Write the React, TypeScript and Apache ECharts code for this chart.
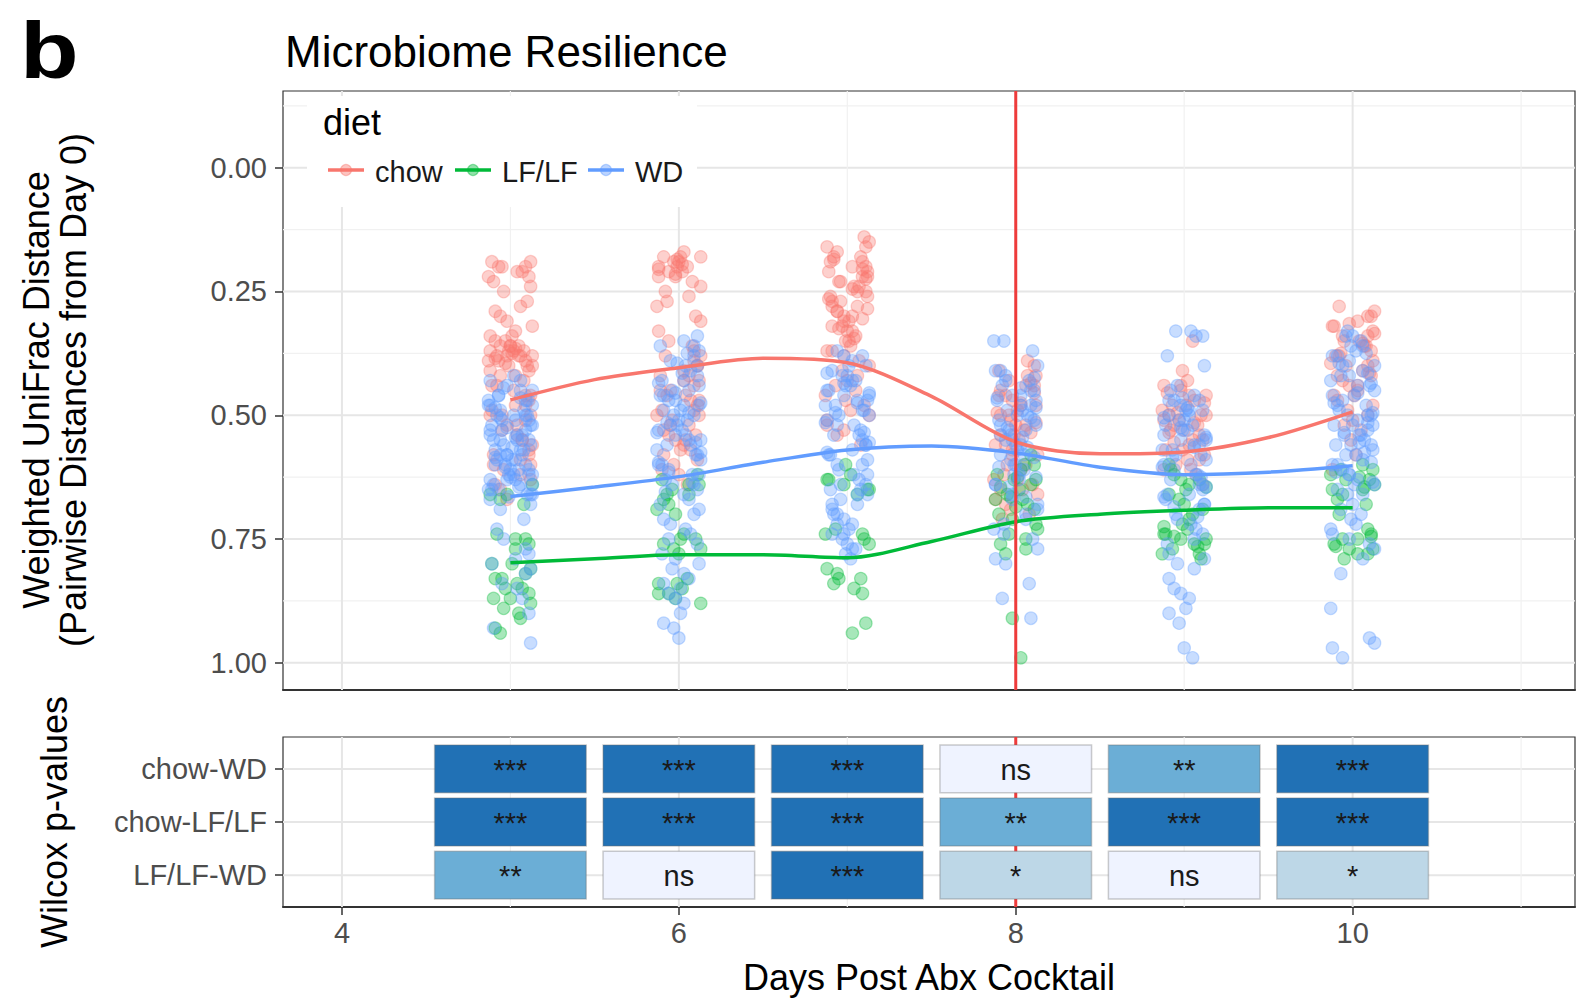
import React, { useEffect, useRef } from 'react';
import * as echarts from 'echarts';

const FONT = '"Liberation Sans", Arial, Helvetica, sans-serif';

// ---------- data ----------
const days = [5, 6, 7, 8, 9, 10];
const diets = ['chow', 'LF/LF', 'WD'];
const dietColors = ['#F8766D', '#00BA38', '#619CFF'];
const pointColors = ['rgba(248,118,109,0.43)', 'rgba(0,186,56,0.43)', 'rgba(97,156,255,0.43)'];

// Weighted UniFrac distances per day (5..10)
const chowPoints = [
  [0.19, 0.19, 0.2, 0.2, 0.21, 0.21, 0.22, 0.23, 0.24, 0.25, 0.28, 0.29, 0.3, 0.31, 0.33, 0.34, 0.35, 0.35, 0.36, 0.36, 0.37, 0.37, 0.37, 0.38, 0.38, 0.38, 0.39, 0.39, 0.4, 0.4, 0.41, 0.42, 0.43, 0.44, 0.46, 0.47, 0.48, 0.49, 0.5, 0.51, 0.53, 0.54, 0.55, 0.57, 0.58, 0.6, 0.61, 0.62, 0.64, 0.65, 0.67, 0.365, 0.375, 0.385, 0.395, 0.36, 0.38, 0.4, 0.45, 0.5, 0.52, 0.56, 0.59, 0.2, 0.22, 0.27, 0.32, 0.34, 0.36, 0.37, 0.38, 0.39, 0.41, 0.42, 0.44, 0.46, 0.48, 0.5, 0.52, 0.55, 0.58, 0.6, 0.63],
  [0.17, 0.18, 0.18, 0.19, 0.19, 0.2, 0.2, 0.21, 0.22, 0.22, 0.24, 0.26, 0.27, 0.28, 0.3, 0.31, 0.33, 0.35, 0.36, 0.38, 0.39, 0.4, 0.41, 0.42, 0.43, 0.44, 0.45, 0.46, 0.47, 0.48, 0.49, 0.5, 0.51, 0.52, 0.53, 0.54, 0.55, 0.56, 0.57, 0.58, 0.6, 0.62, 0.64, 0.185, 0.195, 0.205, 0.215, 0.38, 0.42, 0.46, 0.5, 0.54, 0.18, 0.2, 0.21, 0.23, 0.25, 0.37, 0.4, 0.43, 0.45, 0.47, 0.49, 0.52, 0.55, 0.57, 0.59, 0.61],
  [0.14, 0.15, 0.16, 0.17, 0.18, 0.18, 0.19, 0.2, 0.2, 0.21, 0.22, 0.22, 0.23, 0.24, 0.24, 0.25, 0.26, 0.26, 0.27, 0.28, 0.28, 0.29, 0.3, 0.3, 0.31, 0.32, 0.32, 0.33, 0.34, 0.35, 0.36, 0.37, 0.38, 0.4, 0.42, 0.44, 0.46, 0.48, 0.5, 0.52, 0.54, 0.56, 0.185, 0.205, 0.225, 0.245, 0.265, 0.285, 0.305, 0.325, 0.345, 0.39, 0.16, 0.19, 0.21, 0.23, 0.25, 0.27, 0.29, 0.31, 0.33, 0.35, 0.37, 0.41, 0.43, 0.45, 0.47, 0.49, 0.51, 0.53],
  [0.39, 0.4, 0.41, 0.42, 0.43, 0.44, 0.45, 0.46, 0.47, 0.48, 0.49, 0.5, 0.51, 0.52, 0.53, 0.54, 0.55, 0.56, 0.57, 0.58, 0.6, 0.62, 0.63, 0.64, 0.66, 0.67, 0.68, 0.7, 0.71, 0.435, 0.455, 0.475, 0.495, 0.515, 0.535, 0.6, 0.65, 0.42, 0.44, 0.46, 0.48, 0.5, 0.52, 0.54, 0.56, 0.58, 0.61, 0.63, 0.65, 0.69],
  [0.35, 0.41, 0.43, 0.44, 0.45, 0.46, 0.47, 0.48, 0.49, 0.5, 0.5, 0.51, 0.52, 0.52, 0.53, 0.54, 0.55, 0.56, 0.57, 0.58, 0.59, 0.6, 0.61, 0.62, 0.64, 0.455, 0.475, 0.495, 0.515, 0.535, 0.555, 0.44, 0.46, 0.48, 0.5, 0.51, 0.53, 0.55, 0.57, 0.59, 0.61],
  [0.28, 0.3, 0.3, 0.31, 0.32, 0.33, 0.34, 0.35, 0.35, 0.36, 0.37, 0.38, 0.39, 0.4, 0.41, 0.42, 0.43, 0.44, 0.45, 0.46, 0.47, 0.49, 0.51, 0.53, 0.55, 0.58, 0.61, 0.315, 0.335, 0.355, 0.375, 0.395, 0.415, 0.29, 0.32, 0.34, 0.36, 0.38, 0.4, 0.42, 0.44, 0.46, 0.48, 0.5, 0.52],
];
const lflfPoints = [
  [0.64, 0.66, 0.67, 0.68, 0.74, 0.75, 0.76, 0.77, 0.8, 0.81, 0.82, 0.83, 0.84, 0.85, 0.86, 0.87, 0.88, 0.89, 0.91, 0.93, 0.94, 0.66, 0.75, 0.8, 0.83, 0.85, 0.87, 0.9],
  [0.62, 0.63, 0.64, 0.65, 0.66, 0.67, 0.68, 0.7, 0.74, 0.75, 0.76, 0.77, 0.78, 0.83, 0.84, 0.85, 0.86, 0.87, 0.88, 0.64, 0.66, 0.69, 0.75, 0.77, 0.84, 0.86],
  [0.6, 0.62, 0.63, 0.64, 0.65, 0.66, 0.73, 0.74, 0.75, 0.76, 0.81, 0.82, 0.83, 0.84, 0.86, 0.92, 0.94, 0.63, 0.65, 0.74, 0.83, 0.85],
  [0.58, 0.6, 0.61, 0.62, 0.63, 0.64, 0.66, 0.67, 0.68, 0.69, 0.7, 0.72, 0.74, 0.75, 0.76, 0.78, 0.91, 0.99, 0.625, 0.645, 0.665, 0.685, 0.6, 0.63, 0.65, 0.67, 0.71, 0.73, 0.77],
  [0.6, 0.62, 0.63, 0.64, 0.65, 0.66, 0.67, 0.68, 0.7, 0.72, 0.73, 0.74, 0.75, 0.75, 0.76, 0.77, 0.78, 0.79, 0.645, 0.725, 0.745, 0.765, 0.61, 0.63, 0.69, 0.71, 0.74, 0.76, 0.78],
  [0.6, 0.61, 0.62, 0.63, 0.64, 0.65, 0.66, 0.68, 0.7, 0.73, 0.74, 0.75, 0.76, 0.77, 0.78, 0.79, 0.625, 0.645, 0.745, 0.765, 0.61, 0.63, 0.65, 0.67, 0.75, 0.77, 0.78],
];
const wdPoints = [
  [0.42, 0.43, 0.44, 0.45, 0.45, 0.46, 0.47, 0.47, 0.48, 0.48, 0.49, 0.49, 0.5, 0.5, 0.51, 0.51, 0.52, 0.52, 0.53, 0.53, 0.54, 0.54, 0.55, 0.55, 0.56, 0.56, 0.57, 0.57, 0.58, 0.58, 0.59, 0.59, 0.6, 0.6, 0.61, 0.61, 0.62, 0.62, 0.63, 0.63, 0.64, 0.64, 0.65, 0.65, 0.66, 0.66, 0.67, 0.69, 0.71, 0.73, 0.77, 0.78, 0.79, 0.8, 0.81, 0.82, 0.84, 0.85, 0.87, 0.9, 0.93, 0.96, 0.445, 0.465, 0.485, 0.505, 0.525, 0.545, 0.565, 0.585, 0.605, 0.625, 0.645, 0.665, 0.5, 0.54, 0.58, 0.62, 0.43, 0.46, 0.48, 0.5, 0.52, 0.53, 0.55, 0.57, 0.59, 0.6, 0.62, 0.63, 0.65, 0.66, 0.47, 0.51, 0.55, 0.58, 0.61, 0.64, 0.68, 0.75],
  [0.34, 0.35, 0.36, 0.37, 0.38, 0.39, 0.4, 0.41, 0.42, 0.43, 0.44, 0.45, 0.45, 0.46, 0.47, 0.47, 0.48, 0.49, 0.49, 0.5, 0.51, 0.51, 0.52, 0.53, 0.53, 0.54, 0.55, 0.55, 0.56, 0.57, 0.58, 0.59, 0.6, 0.61, 0.62, 0.63, 0.64, 0.65, 0.66, 0.68, 0.69, 0.7, 0.72, 0.73, 0.74, 0.76, 0.78, 0.8, 0.81, 0.83, 0.84, 0.86, 0.87, 0.88, 0.9, 0.92, 0.93, 0.95, 0.375, 0.395, 0.415, 0.435, 0.455, 0.475, 0.495, 0.515, 0.535, 0.555, 0.575, 0.595, 0.615, 0.635, 0.655, 0.36, 0.4, 0.43, 0.46, 0.48, 0.5, 0.52, 0.54, 0.56, 0.58, 0.6, 0.62, 0.64, 0.67, 0.71, 0.75, 0.79, 0.82, 0.85],
  [0.37, 0.38, 0.39, 0.4, 0.41, 0.42, 0.42, 0.43, 0.44, 0.44, 0.45, 0.46, 0.46, 0.47, 0.48, 0.48, 0.49, 0.5, 0.51, 0.52, 0.53, 0.54, 0.55, 0.56, 0.57, 0.58, 0.59, 0.6, 0.61, 0.62, 0.63, 0.64, 0.65, 0.66, 0.67, 0.68, 0.69, 0.7, 0.71, 0.72, 0.73, 0.74, 0.75, 0.76, 0.77, 0.78, 0.79, 0.415, 0.435, 0.455, 0.475, 0.495, 0.515, 0.535, 0.555, 0.575, 0.6, 0.65, 0.7, 0.38, 0.4, 0.43, 0.45, 0.47, 0.49, 0.5, 0.52, 0.54, 0.56, 0.58, 0.62, 0.64, 0.66, 0.68, 0.72, 0.74, 0.77],
  [0.35, 0.35, 0.37, 0.4, 0.41, 0.42, 0.43, 0.44, 0.45, 0.45, 0.46, 0.47, 0.47, 0.48, 0.49, 0.49, 0.5, 0.51, 0.51, 0.52, 0.53, 0.53, 0.54, 0.55, 0.55, 0.56, 0.57, 0.58, 0.59, 0.6, 0.61, 0.62, 0.63, 0.64, 0.66, 0.68, 0.7, 0.72, 0.73, 0.75, 0.77, 0.79, 0.8, 0.84, 0.87, 0.91, 0.425, 0.445, 0.465, 0.485, 0.505, 0.525, 0.545, 0.565, 0.585, 0.605, 0.625, 0.645, 0.665, 0.41, 0.43, 0.46, 0.48, 0.5, 0.52, 0.54, 0.56, 0.58, 0.6, 0.62, 0.64, 0.67, 0.69, 0.71, 0.74],
  [0.33, 0.33, 0.34, 0.34, 0.38, 0.4, 0.44, 0.46, 0.47, 0.47, 0.48, 0.49, 0.49, 0.5, 0.51, 0.51, 0.52, 0.53, 0.53, 0.54, 0.55, 0.55, 0.56, 0.57, 0.57, 0.58, 0.59, 0.6, 0.61, 0.62, 0.63, 0.64, 0.65, 0.66, 0.67, 0.68, 0.69, 0.7, 0.72, 0.73, 0.74, 0.76, 0.79, 0.8, 0.81, 0.83, 0.85, 0.86, 0.87, 0.89, 0.9, 0.92, 0.97, 0.99, 0.465, 0.485, 0.505, 0.525, 0.545, 0.565, 0.585, 0.605, 0.625, 0.645, 0.665, 0.685, 0.705, 0.45, 0.47, 0.49, 0.5, 0.52, 0.54, 0.56, 0.58, 0.6, 0.62, 0.64, 0.66, 0.68, 0.71, 0.75, 0.78],
  [0.33, 0.34, 0.35, 0.36, 0.37, 0.38, 0.39, 0.4, 0.41, 0.42, 0.43, 0.44, 0.45, 0.46, 0.47, 0.48, 0.49, 0.5, 0.5, 0.51, 0.52, 0.52, 0.53, 0.54, 0.54, 0.55, 0.56, 0.56, 0.57, 0.58, 0.59, 0.6, 0.61, 0.62, 0.63, 0.64, 0.65, 0.66, 0.68, 0.7, 0.71, 0.72, 0.74, 0.75, 0.77, 0.79, 0.82, 0.89, 0.95, 0.96, 0.97, 0.99, 0.375, 0.395, 0.415, 0.435, 0.455, 0.475, 0.495, 0.515, 0.535, 0.555, 0.575, 0.595, 0.615, 0.635, 0.34, 0.36, 0.38, 0.4, 0.42, 0.44, 0.46, 0.48, 0.5, 0.52, 0.54, 0.56, 0.58, 0.6, 0.62, 0.64, 0.66, 0.69, 0.73, 0.76],
];
// horizontal jitter offsets (days)
const jitter = [-0.11, 0.06, -0.02, 0.12, -0.07, 0.03, 0.09, -0.13, 0.01, -0.05, 0.1, -0.09, 0.04, 0.13, -0.03, 0.07, -0.12, 0.0, 0.11, -0.06, 0.05, -0.1, 0.08, -0.01, 0.12, -0.08, 0.02, -0.04, 0.09, -0.12, 0.06, 0.11, -0.02, -0.09, 0.03, 0.13, -0.06];

// smoothed trend lines
const fitDays = [5, 5.5, 6, 6.5, 7, 7.5, 8, 8.5, 9, 9.5, 10];
const chowFit = [0.469, 0.428, 0.404, 0.385, 0.394, 0.462, 0.554, 0.578, 0.574, 0.545, 0.493];
const lflfFit = [0.798, 0.79, 0.782, 0.782, 0.788, 0.755, 0.715, 0.7, 0.692, 0.687, 0.687];
const wdFit = [0.664, 0.645, 0.624, 0.595, 0.57, 0.562, 0.576, 0.605, 0.62, 0.615, 0.602];

const vlineDay = [8];

// axis ticks
const yTicks = [0, 0.25, 0.5, 0.75, 1];
const yMinor = [-0.125, 0.125, 0.375, 0.625, 0.875];
const xTicks = [4, 6, 8, 10];
const xMinor = [5, 7, 9, 11];

// Wilcox p-value significance
const pRows = ['chow-WD', 'chow-LF/LF', 'LF/LF-WD'];
const rowPos = [3, 2, 1];
const pChowWD = ['***', '***', '***', 'ns', '**', '***'];
const pChowLF = ['***', '***', '***', '**', '***', '***'];
const pLFWD = ['**', 'ns', '***', '*', 'ns', '*'];
const sigLevels = ['ns', '*', '**', '***'];
const sigColors = ['#EFF3FF', '#BDD7E7', '#6BAED6', '#2171B5'];

const X_MIN = 3.65;
const X_MAX = 11.32;

function buildScatter(byDay: number[][], offset: number) {
  const out: number[][] = [];
  byDay.forEach((vals, di) => {
    vals.forEach((v, i) => {
      const j = jitter[(i * 3 + di * 5 + offset) % jitter.length];
      out.push([days[di] + j, v]);
    });
  });
  return out;
}

function gridLineItem(params: any, api: any) {
  const cs = params.coordSys;
  const orient = api.value(0);
  const v = api.value(1);
  const major = api.value(2) === 1;
  const stroke = major ? '#E6E6E6' : '#F1F1F1';
  const lw = major ? 2 : 1.2;
  if (orient === 0) {
    const y = api.coord([(X_MIN + X_MAX) / 2, v])[1];
    return { type: 'line', silent: true, shape: { x1: cs.x, y1: y, x2: cs.x + cs.width, y2: y }, style: { stroke, lineWidth: lw } };
  }
  const x = api.coord([v, 1])[0];
  return { type: 'line', silent: true, shape: { x1: x, y1: cs.y, x2: x, y2: cs.y + cs.height }, style: { stroke, lineWidth: lw } };
}

function vlineItem(params: any, api: any) {
  const cs = params.coordSys;
  const x = api.coord([api.value(0), 1])[0];
  return { type: 'line', silent: true, shape: { x1: x, y1: cs.y, x2: x, y2: cs.y + cs.height }, style: { stroke: '#EE3B3B', lineWidth: 3 } };
}

export default function App() {
  const ref = useRef<HTMLDivElement>(null);
  useEffect(() => {
    if (!ref.current) return;
    const chart = echarts.init(ref.current, undefined, { renderer: 'svg' });

    const topGridData = [
      ...yTicks.map((v) => [0, v, 1]),
      ...yMinor.map((v) => [0, v, 0]),
      ...xTicks.map((v) => [1, v, 1]),
      ...xMinor.map((v) => [1, v, 0]),
    ];
    const bottomGridData = [
      ...rowPos.map((v) => [0, v, 1]),
      ...xTicks.map((v) => [1, v, 1]),
      ...xMinor.map((v) => [1, v, 0]),
    ];

    const pTable = [pChowWD, pChowLF, pLFWD];
    const tileData: any[] = [];
    pTable.forEach((row, ri) => {
      row.forEach((sig, di) => {
        tileData.push([days[di], rowPos[ri], sigLevels.indexOf(sig)]);
      });
    });

    const pointSets = [chowPoints, lflfPoints, wdPoints];
    const fits = [chowFit, lflfFit, wdFit];

    const scatterSeries = diets.map((name, k) => ({
      name,
      type: 'scatter',
      xAxisIndex: 0,
      yAxisIndex: 0,
      z: 2,
      symbol: 'circle',
      symbolSize: 12.5,
      silent: true,
      large: false,
      itemStyle: { color: pointColors[k], borderColor: pointColors[k], borderWidth: 1.2 },
      data: buildScatter(pointSets[k], k * 13),
    }));

    const lineSeries = diets.map((name, k) => ({
      name: name + ' fit',
      type: 'line',
      xAxisIndex: 0,
      yAxisIndex: 0,
      z: 3,
      smooth: 0.3,
      symbol: 'none',
      showSymbol: false,
      silent: true,
      lineStyle: { color: dietColors[k], width: 3.5 },
      data: fitDays.map((d, i) => [d, fits[k][i]]),
    }));

    const axisLabelBase = { fontSize: 29, color: '#4D4D4D', fontFamily: FONT };
    const tickStyle = { color: '#333333', width: 1.5 };

    const legendItems: any[] = [];
    const keyX = [328, 455, 588];
    const labelX = [375, 502, 635];
    diets.forEach((name, k) => {
      legendItems.push({ type: 'line', z: 101, shape: { x1: keyX[k], y1: 170, x2: keyX[k] + 36, y2: 170 }, style: { stroke: dietColors[k], lineWidth: 3.5 } });
      legendItems.push({ type: 'circle', z: 102, shape: { cx: keyX[k] + 18, cy: 170, r: 5.5 }, style: { fill: pointColors[k], stroke: pointColors[k], lineWidth: 1.2 } });
      legendItems.push({ type: 'text', z: 102, x: labelX[k], y: 172, style: { text: name, fontSize: 29, fontFamily: FONT, fill: '#1A1A1A', align: 'left', verticalAlign: 'middle' } });
    });

    const option: any = {
      animation: false,
      backgroundColor: '#ffffff',
      textStyle: { fontFamily: FONT },
      grid: [
        { left: 283, top: 91, right: 2, height: 599, show: true, borderColor: '#333333', borderWidth: 1.2, backgroundColor: '#ffffff', containLabel: false, outerBoundsMode: 'none' },
        { left: 283, top: 737, right: 2, height: 170, show: true, borderColor: '#333333', borderWidth: 1.2, backgroundColor: '#ffffff', containLabel: false, outerBoundsMode: 'none' },
      ],
      xAxis: [
        {
          gridIndex: 0, type: 'value', min: X_MIN, max: X_MAX,
          axisLine: { show: true, onZero: false, lineStyle: { color: '#333333', width: 2 } },
          axisTick: { show: false }, axisLabel: { show: false }, splitLine: { show: false },
        },
        {
          gridIndex: 1, type: 'value', min: X_MIN, max: X_MAX,
          axisLine: { show: true, onZero: false, lineStyle: { color: '#333333', width: 2 } },
          axisTick: { show: true, customValues: xTicks, length: 8, lineStyle: tickStyle },
          axisLabel: { show: true, customValues: xTicks, margin: 11, ...axisLabelBase },
          splitLine: { show: false },
        },
      ],
      yAxis: [
        {
          gridIndex: 0, type: 'value', inverse: true, min: -0.155, max: 1.055,
          axisLine: { show: false },
          axisTick: { show: true, customValues: yTicks, length: 8, lineStyle: tickStyle },
          axisLabel: { show: true, customValues: yTicks, margin: 16, formatter: (v: number) => v.toFixed(2), ...axisLabelBase },
          splitLine: { show: false },
        },
        {
          gridIndex: 1, type: 'value', min: 0.4, max: 3.6,
          axisLine: { show: false },
          axisTick: { show: true, customValues: rowPos, length: 8, lineStyle: tickStyle },
          axisLabel: { show: true, customValues: rowPos, margin: 16, formatter: (v: number) => pRows[rowPos.indexOf(v)] ?? '', ...axisLabelBase },
          splitLine: { show: false },
        },
      ],
      series: [
        { type: 'custom', xAxisIndex: 0, yAxisIndex: 0, z: 1, silent: true, renderItem: gridLineItem, data: topGridData },
        { type: 'custom', xAxisIndex: 1, yAxisIndex: 1, z: 1, silent: true, renderItem: gridLineItem, data: bottomGridData },
        { type: 'custom', xAxisIndex: 1, yAxisIndex: 1, z: 1, silent: true, renderItem: vlineItem, data: vlineDay.map((d) => [d]) },
        ...scatterSeries,
        ...lineSeries,
        { type: 'custom', xAxisIndex: 0, yAxisIndex: 0, z: 4, silent: true, renderItem: vlineItem, data: vlineDay.map((d) => [d]) },
        {
          type: 'custom', xAxisIndex: 1, yAxisIndex: 1, z: 3, silent: true,
          data: tileData,
          renderItem: (params: any, api: any) => {
            const d = api.value(0);
            const r = api.value(1);
            const lvl = api.value(2);
            const p1 = api.coord([d - 0.45, r + 0.45]);
            const p2 = api.coord([d + 0.45, r - 0.45]);
            return {
              type: 'group',
              children: [
                { type: 'rect', shape: { x: p1[0], y: p1[1], width: p2[0] - p1[0], height: p2[1] - p1[1] }, style: { fill: sigColors[lvl], stroke: 'rgba(110,110,110,0.35)', lineWidth: 1.5 } },
                { type: 'text', x: (p1[0] + p2[0]) / 2, y: (p1[1] + p2[1]) / 2 + 1, style: { text: sigLevels[lvl], fontSize: 29, fontFamily: FONT, fill: '#1A1A1A', align: 'center', verticalAlign: 'middle' } },
              ],
            };
          },
        },
      ],
      graphic: [
        { type: 'text', x: 20, y: 50, scaleX: 1.2, z: 100, style: { text: 'b', fontSize: 80, fontWeight: 'bold', fontFamily: FONT, fill: '#000', align: 'left', verticalAlign: 'middle' } },
        { type: 'text', x: 285, y: 51, z: 100, style: { text: 'Microbiome Resilience', fontSize: 44, fontFamily: FONT, fill: '#000', align: 'left', verticalAlign: 'middle' } },
        { type: 'rect', z: 100, shape: { x: 307, y: 96, width: 390, height: 111 }, style: { fill: '#ffffff' } },
        { type: 'text', x: 323, y: 122, z: 101, style: { text: 'diet', fontSize: 36, fontFamily: FONT, fill: '#000', align: 'left', verticalAlign: 'middle' } },
        ...legendItems,
        { type: 'text', x: 36, y: 390, rotation: Math.PI / 2, z: 100, style: { text: 'Weighted UniFrac Distance', fontSize: 36, fontFamily: FONT, fill: '#000', align: 'center', verticalAlign: 'middle' } },
        { type: 'text', x: 73, y: 390, rotation: Math.PI / 2, z: 100, style: { text: '(Pairwise Distances from Day 0)', fontSize: 36, fontFamily: FONT, fill: '#000', align: 'center', verticalAlign: 'middle' } },
        { type: 'text', x: 54, y: 822, rotation: Math.PI / 2, z: 100, style: { text: 'Wilcox p-values', fontSize: 36, fontFamily: FONT, fill: '#000', align: 'center', verticalAlign: 'middle' } },
        { type: 'text', x: 929, y: 977, z: 100, style: { text: 'Days Post Abx Cocktail', fontSize: 36, fontFamily: FONT, fill: '#000', align: 'center', verticalAlign: 'middle' } },
      ],
    };

    chart.setOption(option);
    return () => {
      chart.dispose();
    };
  }, []);

  return (
    <div
      ref={ref}
      style={{ position: 'absolute', left: 0, top: 0, width: 1577, height: 1001, background: '#ffffff' }}
    />
  );
}
